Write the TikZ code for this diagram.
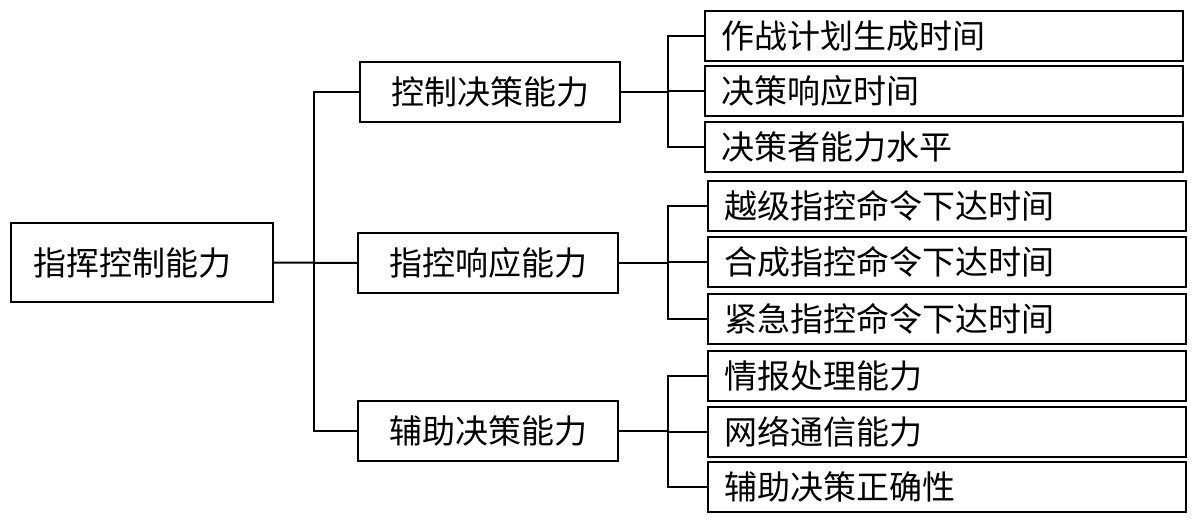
\documentclass[tikz,border=0pt]{standalone}
\usepackage{fontspec}
\newfontfamily\cjk{Noto Sans CJK SC}
\tikzset{
  box/.style={draw=black, line width=2pt, rectangle, inner sep=0pt, font=\cjk\fontsize{33}{36}\selectfont},
  rootbox/.style={box, minimum width=262pt, minimum height=79pt, text width=218pt, align=left, inner xsep=22pt},
  midbox/.style={box, minimum width=260pt, minimum height=60pt, align=center},
  leafbox/.style={box, anchor=west, minimum width=478pt, minimum height=50pt, text width=446pt, align=left, inner xsep=16pt},
  conn/.style={draw=black, line width=2pt}
}
\begin{document}
\begin{tikzpicture}[x=1pt,y=-1pt]
\useasboundingbox (0,0) rectangle (1202,528);
\node[rootbox] (root) at (142,262.5) {指挥控制能力};
\node[midbox] (m1) at (490,92) {控制决策能力};
\node[midbox] (m2) at (488,263) {指控响应能力};
\node[midbox] (m3) at (488,431) {辅助决策能力};
\node[leafbox] (a1) at (704,36) {作战计划生成时间};
\node[leafbox] (a2) at (704,91) {决策响应时间};
\node[leafbox] (a3) at (704,147) {决策者能力水平};
\node[leafbox] (b1) at (707,206) {越级指控命令下达时间};
\node[leafbox] (b2) at (707,262) {合成指控命令下达时间};
\node[leafbox] (b3) at (707,318.5) {紧急指控命令下达时间};
\node[leafbox] (c1) at (707,376) {情报处理能力};
\node[leafbox] (c2) at (707,432) {网络通信能力};
\node[leafbox] (c3) at (707,487) {辅助决策正确性};
\coordinate (t1) at (314,92);
\coordinate (t3) at (314,431);
\coordinate (j1) at (668,92);
\coordinate (j2) at (668,263);
\coordinate (j3) at (668,431);
\draw[conn] (root.east) -- (m2.west);
\draw[conn] (m1.west) -- (t1) -- (t3) -- (m3.west);
\draw[conn] (m1.east) -- (j1);
\draw[conn] (m2.east) -- (j2);
\draw[conn] (m3.east) -- (j3);
\draw[conn] (a1.west) -| (j1) |- (a3.west);
\draw[conn] (a2.west) -- (a2.west -| j1);
\draw[conn] (b1.west) -| (j2) |- (b3.west);
\draw[conn] (b2.west) -- (b2.west -| j2);
\draw[conn] (c1.west) -| (j3) |- (c3.west);
\draw[conn] (c2.west) -- (c2.west -| j3);
\end{tikzpicture}
\end{document}
